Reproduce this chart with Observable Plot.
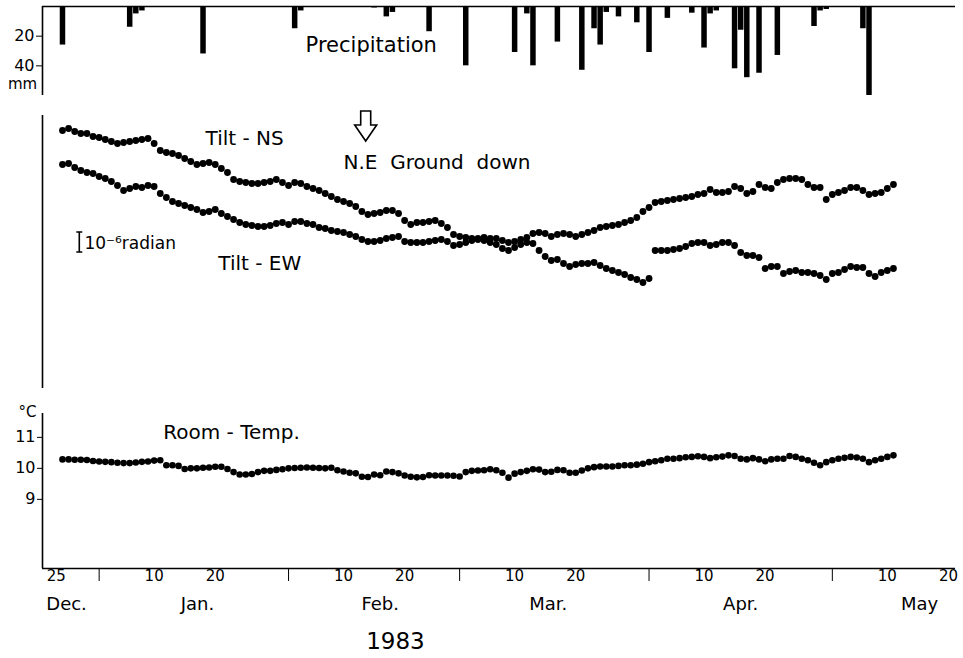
<!DOCTYPE html>
<html><head><meta charset="utf-8">
<script src="https://cdn.jsdelivr.net/npm/d3@7"></script>
<script src="https://cdn.jsdelivr.net/npm/@observablehq/plot@0.6"></script>
<style>
body{margin:0;background:#fff;}
#chart svg{display:block;}
</style></head><body><div id="chart"></div>
<script>
const FONT = "'DejaVu Sans', 'Liberation Sans', sans-serif";

// Daily readings start on this date
const firstDay = "1982-12-26";

// Tilt (10^-6 radian, relative)
const tiltNS = [
 8.5, 8.6, 8.45, 8.35, 8.35, 8.2, 8.15, 8.05, 7.95, 7.85,
 7.9, 7.95, 8.0, 8.05, 8.1, 7.85, 7.5, 7.4, 7.35, 7.25,
 7.1, 6.95, 6.8, 6.85, 6.9, 6.8, 6.6, 6.4, 6.05, 5.95,
 5.9, 5.85, 5.85, 5.9, 5.95, 6.05, 5.9, 5.75, 5.9, 5.85,
 5.7, 5.6, 5.5, 5.35, 5.2, 5.05, 4.95, 4.85, 4.7, 4.45,
 4.3, 4.35, 4.4, 4.5, 4.5, 4.35, 4.0, 3.8, 3.9, 3.9,
 3.95, 4.0, 3.85, 3.65, 3.3, 3.2, 3.15, 3.1, 3.05, 3.0,
 2.9, 2.8, 2.6, 2.5, 2.65, 2.8, 2.9, 2.85, 2.5, 2.2,
 2.0, 2.05, 1.85, 1.7, 1.8, 1.85, 1.85, 1.9, 1.75, 1.6,
 1.5, 1.4, 1.3, 1.15, 1.05, 0.9, 1.1, 2.5, 2.5, 2.5,
 2.55, 2.6, 2.7, 2.85, 2.9, 2.9, 2.75, 2.8, 2.9, 2.9,
 2.75, 2.4, 2.25, 2.25, 2.15, 1.6, 1.7, 1.7, 1.35, 1.45,
 1.5, 1.4, 1.4, 1.35, 1.25, 1.05, 1.35, 1.4, 1.55, 1.7,
 1.65, 1.65, 1.35, 1.2, 1.4, 1.5, 1.6
];
const tiltEW = [
 6.8, 6.85, 6.65, 6.5, 6.4, 6.35, 6.2, 6.1, 5.95, 5.75,
 5.5, 5.6, 5.7, 5.65, 5.75, 5.7, 5.35, 5.15, 4.95, 4.85,
 4.75, 4.65, 4.55, 4.4, 4.45, 4.55, 4.35, 4.2, 4.05, 3.9,
 3.8, 3.75, 3.7, 3.7, 3.75, 3.85, 3.9, 3.8, 3.95, 3.95,
 3.85, 3.8, 3.65, 3.6, 3.5, 3.45, 3.4, 3.3, 3.2, 3.05,
 2.95, 2.95, 3.0, 3.1, 3.15, 3.2, 2.95, 2.9, 2.9, 2.9,
 2.95, 3.0, 3.05, 2.95, 2.75, 2.8, 2.9, 3.0, 3.1, 3.15,
 3.1, 3.1, 3.0, 2.9, 2.95, 3.05, 3.15, 3.35, 3.4, 3.35,
 3.2, 3.3, 3.35, 3.3, 3.2, 3.3, 3.4, 3.5, 3.65, 3.7,
 3.75, 3.8, 3.9, 4.0, 4.15, 4.45, 4.65, 4.9, 4.95, 5.0,
 5.05, 5.1, 5.15, 5.2, 5.3, 5.35, 5.55, 5.4, 5.4, 5.45,
 5.7, 5.6, 5.35, 5.45, 5.8, 5.65, 5.6, 5.9, 6.05, 6.1,
 6.1, 6.05, 5.8, 5.65, 5.65, 5.05, 5.3, 5.4, 5.5, 5.65,
 5.65, 5.5, 5.3, 5.35, 5.4, 5.6, 5.8
];
// Room temperature (°C)
const roomTemp = [
 10.29, 10.29, 10.28, 10.28, 10.27, 10.24, 10.22, 10.21, 10.2, 10.18,
 10.17, 10.17, 10.19, 10.21, 10.22, 10.25, 10.26, 10.1, 10.1, 10.08,
 9.98, 10.0, 10.0, 10.02, 10.03, 10.05, 10.05, 9.98, 9.88, 9.8,
 9.8, 9.82, 9.88, 9.92, 9.92, 9.95, 9.97, 10.0, 10.01, 10.02,
 10.03, 10.02, 10.01, 10.0, 10.02, 9.94, 9.9, 9.86, 9.84, 9.73,
 9.72, 9.8, 9.78, 9.9, 9.88, 9.84, 9.77, 9.73, 9.71, 9.72,
 9.78, 9.77, 9.77, 9.77, 9.76, 9.74, 9.88, 9.92, 9.93, 9.94,
 9.97, 9.94, 9.86, 9.7, 9.83, 9.88, 9.92, 9.97, 9.96, 9.88,
 9.89, 9.95, 9.94, 9.86, 9.86, 9.93, 10.0, 10.04, 10.06, 10.06,
 10.06, 10.08, 10.1, 10.1, 10.12, 10.15, 10.2, 10.23, 10.26, 10.31,
 10.31, 10.33, 10.36, 10.37, 10.39, 10.37, 10.33, 10.36, 10.38, 10.42,
 10.4, 10.31, 10.29, 10.33, 10.29, 10.23, 10.29, 10.31, 10.31, 10.4,
 10.37, 10.31, 10.26, 10.18, 10.1, 10.2, 10.26, 10.31, 10.34, 10.37,
 10.35, 10.31, 10.2, 10.26, 10.31, 10.37, 10.42
];
// Precipitation (mm per day)
const precipDates = ["1982-12-26","1983-01-06","1983-01-07","1983-01-08","1983-01-18","1983-02-02","1983-02-03",
 "1983-02-15","1983-02-17","1983-02-18","1983-02-24","1983-03-02","1983-03-10","1983-03-12","1983-03-13",
 "1983-03-17","1983-03-21","1983-03-23","1983-03-24","1983-03-25","1983-03-27","1983-03-30","1983-04-01",
 "1983-04-04","1983-04-08","1983-04-10","1983-04-11","1983-04-12","1983-04-15","1983-04-16","1983-04-17",
 "1983-04-19","1983-04-22","1983-04-28","1983-04-29","1983-04-30","1983-05-06","1983-05-07"];
const precipMm = [26, 14, 5, 3, 32, 15, 3,
 1, 7, 4, 17, 40, 31, 5, 40,
 24, 43, 15, 26, 4, 7, 11, 31,
 8, 4.5, 28, 5, 3, 42, 16, 48,
 45, 33, 13.5, 3, 2, 15, 60];

// Axis content
const monthStarts = ["1983-01-01","1983-02-01","1983-03-01","1983-04-01","1983-05-01"];
const dayTickDates = ["1982-12-25","1983-01-10","1983-01-20","1983-02-10","1983-02-20","1983-03-10","1983-03-20",
 "1983-04-10","1983-04-20","1983-05-10","1983-05-20"];
const dayTickLabels = ["25","10","20","10","20","10","20","10","20","10","20"];
const monthNames = ["Dec.","Jan.","Feb.","Mar.","Apr.","May"];
const monthNameDates = ["1982-12-26T16:00Z","1983-01-17T02:00Z","1983-02-16T00:00Z","1983-03-15T12:00Z","1983-04-16T00:00Z","1983-05-15T07:00Z"];
const yearLabel = {date: "1983-02-18T12:00Z", text: "1983"};

const xDomain = [new Date("1982-12-22T17:30Z"), new Date("1983-05-21T03:48Z")];
const W = 963, ML = 42, MR = 8;
const baseStyle = {fontFamily: FONT, fontSize: "15px", color: "#000", background: "#fff", overflow: "visible"};

const start = new Date(firstDay);
const rows = tiltNS.map((ns, i) => ({date: d3.utcDay.offset(start, i), ns, ew: tiltEW[i], t: roomTemp[i]}));
const precip = precipDates.map((d, i) => ({date: new Date(d), mm: precipMm[i]}));

// ---------- Precipitation panel ----------
const p1 = Plot.plot({
  width: W, height: 100, marginLeft: ML, marginRight: MR, marginTop: 6, marginBottom: 5,
  style: {...baseStyle, fontSize: "16px"},
  x: {type: "utc", domain: xDomain, axis: null},
  y: {domain: [0, 60], reverse: true, ticks: [20, 40], tickSize: 6, tickPadding: 2, label: null, tickFormat: d => String(d)},
  marks: [
    Plot.ruleY([0], {strokeWidth: 1.6}),
    Plot.ruleX([xDomain[0]], {strokeWidth: 1.6}),
    Plot.ruleX(precip, {x: "date", y1: 0, y2: "mm", strokeWidth: 5.5, stroke: "#000"}),
    Plot.text([{date: new Date("1983-02-03T19:00Z"), v: 26.3, t: "Precipitation"}],
      {x: "date", y: "v", text: "t", textAnchor: "start", fontSize: 21}),
    Plot.text([{date: xDomain[0], v: 52.5, t: "mm"}], {x: "date", y: "v", text: "t", dx: -20, fontSize: 15})
  ]
});

// ---------- Tilt panel ----------
const arrowPos = {date: new Date("1983-02-13T17:00Z"), v: 7.95};
const scaleBar = {date: new Date("1982-12-28T20:00Z"), lo: 2.4, hi: 3.4};
const svgNS = "http://www.w3.org/2000/svg";
const p2 = Plot.plot({
  width: W, height: 300, marginLeft: ML, marginRight: MR, marginTop: 15, marginBottom: 12,
  style: baseStyle,
  x: {type: "utc", domain: xDomain, axis: null},
  y: {domain: [-4.4, 9.25], axis: null},
  marks: [
    Plot.ruleX([xDomain[0]], {strokeWidth: 1.6}),
    Plot.dot(rows, {x: "date", y: "ns", r: 3.4, fill: "#000"}),
    Plot.dot(rows, {x: "date", y: "ew", r: 3.4, fill: "#000"}),
    Plot.text([{date: new Date("1983-01-18T10:00Z"), v: 8.1, t: "Tilt - NS"}],
      {x: "date", y: "v", text: "t", textAnchor: "start", fontSize: 20}),
    Plot.text([{date: new Date("1983-01-20T12:00Z"), v: 1.85, t: "Tilt - EW"}],
      {x: "date", y: "v", text: "t", textAnchor: "start", fontSize: 20}),
    Plot.text([{date: new Date("1983-02-10T00:00Z"), v: 6.9, t: "N.E  Ground  down"}],
      {x: "date", y: "v", text: "t", textAnchor: "start", fontSize: 20}),
    Plot.text([{date: new Date("1982-12-29T14:00Z"), v: 2.85, t: "10\u207B\u2076radian"}],
      {x: "date", y: "v", text: "t", textAnchor: "start", fontSize: 17}),
    (index, scales) => {
      const cx = scales.x(arrowPos.date), ty = scales.y(arrowPos.v);
      const p = document.createElementNS(svgNS, "path");
      p.setAttribute("d", `M${cx-5},${ty-30}H${cx+5}V${ty-16}H${cx+11}L${cx},${ty}L${cx-11},${ty-16}H${cx-5}Z`);
      p.setAttribute("fill", "#fff"); p.setAttribute("stroke", "#000"); p.setAttribute("stroke-width", "1.6");
      p.setAttribute("stroke-linejoin", "miter");
      return p;
    },
    (index, scales) => {
      const x = scales.x(scaleBar.date), y1 = scales.y(scaleBar.lo), y2 = scales.y(scaleBar.hi);
      const p = document.createElementNS(svgNS, "path");
      p.setAttribute("d", `M${x-3},${y1}H${x+3}M${x},${y1}V${y2}M${x-3},${y2}H${x+3}`);
      p.setAttribute("fill", "none"); p.setAttribute("stroke", "#000"); p.setAttribute("stroke-width", "1.6");
      return p;
    }
  ]
});

// ---------- Room temperature panel + time axis ----------
const tMin = 6.77, tMax = 11.77;
const p3 = Plot.plot({
  width: W, height: 258, marginLeft: ML, marginRight: MR, marginTop: 13, marginBottom: 90,
  style: {...baseStyle, fontSize: "16px"},
  x: {type: "utc", domain: xDomain, ticks: monthStarts.map(d => new Date(d)), tickSize: 13, tickFormat: () => "", label: null},
  y: {domain: [tMin, tMax], ticks: [9, 10, 11], tickSize: 5, tickPadding: 2, label: null, tickFormat: d => String(d)},
  marks: [
    Plot.ruleX([xDomain[0]], {strokeWidth: 1.6}),
    Plot.ruleY([tMin], {strokeWidth: 1.6}),
    Plot.dot(rows, {x: "date", y: "t", r: 3.3, fill: "#000"}),
    Plot.text([{date: new Date("1983-01-11T12:00Z"), v: 11.16, t: "Room - Temp."}],
      {x: "date", y: "v", text: "t", textAnchor: "start", fontSize: 20}),
    Plot.text([{date: xDomain[0], v: 11.82, t: "°C"}], {x: "date", y: "v", text: "t", dx: -15, fontSize: 15}),
    Plot.text(dayTickDates.map((d, i) => ({date: new Date(d), t: dayTickLabels[i]})),
      {x: "date", text: "t", frameAnchor: "bottom", dy: 12, fontSize: 15}),
    Plot.text(monthNames.map((m, i) => ({date: new Date(monthNameDates[i]), t: m})),
      {x: "date", text: "t", frameAnchor: "bottom", dy: 41, fontSize: 18}),
    Plot.text([{date: new Date(yearLabel.date), t: yearLabel.text}],
      {x: "date", text: "t", frameAnchor: "bottom", dy: 80, fontSize: 23})
  ]
});

const root = document.getElementById("chart");
root.append(p1, p2, p3);
</script>
</body></html>
